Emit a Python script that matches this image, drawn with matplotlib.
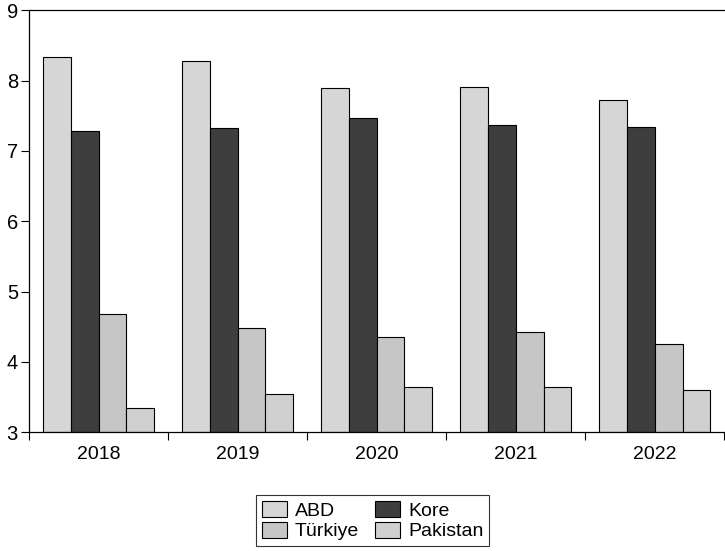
import matplotlib
matplotlib.use('Agg')
import matplotlib.pyplot as plt
import numpy as np

years = ['2018', '2019', '2020', '2021', '2022']
series_names = ['ABD', 'Kore', 'Türkiye', 'Pakistan']
abd = [8.34, 8.28, 7.90, 7.91, 7.72]
kore = [7.28, 7.33, 7.47, 7.37, 7.34]
turkiye = [4.68, 4.49, 4.35, 4.42, 4.26]
pakistan = [3.34, 3.54, 3.65, 3.65, 3.60]

colors = ['#d6d6d6', '#3e3e3e', '#c6c6c6', '#d0d0d0']

plt.rcParams['font.family'] = ['Liberation Sans', 'DejaVu Sans']


def main():
    fig = plt.figure(figsize=(7.25, 5.51), dpi=100)
    ax = fig.add_axes([0.04, 0.2154, 0.959, 0.766])

    x = np.arange(len(years))
    width = 0.2
    bars = []
    for i, (name, vals) in enumerate(zip(series_names, [abd, kore, turkiye, pakistan])):
        b = ax.bar(x + (i - 1.5) * width, np.array(vals) - 3, width, bottom=3,
                   color=colors[i], edgecolor='black', linewidth=0.8, label=name)
        bars.append(b)

    ax.set_xlim(-0.5, 4.5)
    ax.set_ylim(3, 9)
    ax.set_yticks(range(3, 10))
    ax.set_xticks(x)
    ax.set_xticklabels(years)
    ax.set_xticks(np.arange(-0.5, 5.0, 1.0), minor=True)
    ax.tick_params(axis='x', which='major', length=0, pad=10, labelsize=14)
    ax.tick_params(axis='x', which='minor', length=6, direction='out', width=0.8)
    ax.tick_params(axis='y', length=6, direction='out', width=0.8, labelsize=14.5, pad=2)
    ax.spines['right'].set_visible(False)
    for s in ['left', 'top', 'bottom']:
        ax.spines[s].set_linewidth(0.9)

    handles = [bars[0], bars[2], bars[1], bars[3]]
    labels = ['ABD', 'Türkiye', 'Kore', 'Pakistan']
    leg = fig.legend(handles, labels, loc='center', bbox_to_anchor=(0.514, 0.055),
                     ncol=2, fontsize=14, frameon=True, fancybox=False,
                     edgecolor='black', handlelength=1.3, handleheight=0.9,
                     handletextpad=0.4, columnspacing=0.8, labelspacing=0.1,
                     borderpad=0.3)
    leg.get_frame().set_linewidth(0.8)

    fig.savefig('out.png', dpi=100)


if __name__ == '__main__':
    main()
